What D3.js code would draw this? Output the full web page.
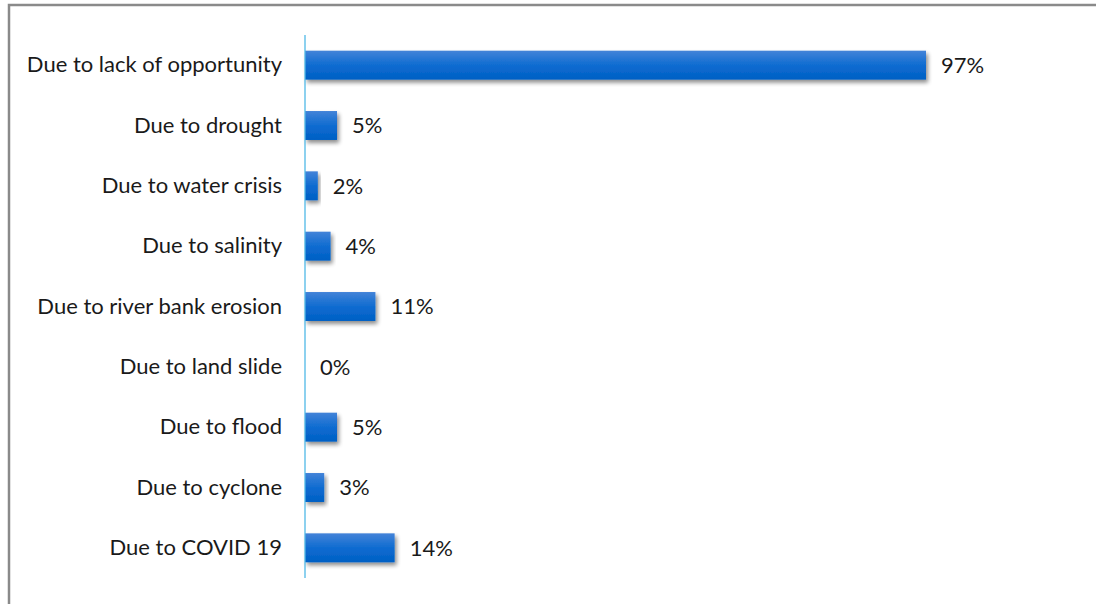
<!DOCTYPE html>
<html>
<head>
<meta charset="utf-8">
<script src="https://cdn.jsdelivr.net/npm/d3@7"></script>
<style>
  html, body { margin: 0; padding: 0; background: #fff; }
  svg { display: block; }
  text { font-family: Lato, "Open Sans", sans-serif; fill: #1a1a1a; }
</style>
</head>
<body>
<svg id="chart" width="1096" height="604"></svg>
<script>
// Reasons for migration, share of respondents (%)
const categories = [
  "Due to lack of opportunity",
  "Due to drought",
  "Due to water crisis",
  "Due to salinity",
  "Due to river bank erosion",
  "Due to land slide",
  "Due to flood",
  "Due to cyclone",
  "Due to COVID 19"
];
const values = [97, 5, 2, 4, 11, 0, 5, 3, 14];
const valueLabels = ["97%", "5%", "2%", "4%", "11%", "0%", "5%", "3%", "14%"];

const svg = d3.select("#chart");
const W = 1096, H = 604;
const fontSize = 22;

// outer frame (only top and left edges fall inside the view)
svg.append("rect")
  .attr("x", 9).attr("y", 5)
  .attr("width", W + 20).attr("height", H + 20)
  .attr("fill", "#fff")
  .attr("stroke", "#8a8a8a")
  .attr("stroke-width", 2.5);

const defs = svg.append("defs");
const grad = defs.append("linearGradient")
  .attr("id", "barGrad").attr("x1", 0).attr("y1", 0).attr("x2", 0).attr("y2", 1);
grad.append("stop").attr("offset", "0%").attr("stop-color", "#4383d8");
grad.append("stop").attr("offset", "55%").attr("stop-color", "#0a6ad0");
grad.append("stop").attr("offset", "100%").attr("stop-color", "#0360c4");

const shadow = defs.append("filter").attr("id", "barShadow")
  .attr("x", "-10%").attr("y", "-20%").attr("width", "130%").attr("height", "160%");
shadow.append("feGaussianBlur").attr("in", "SourceAlpha").attr("stdDeviation", 2.2).attr("result", "b");
shadow.append("feOffset").attr("in", "b").attr("dx", 2).attr("dy", 3).attr("result", "o");
shadow.append("feComponentTransfer").attr("in", "o").attr("result", "s")
  .append("feFuncA").attr("type", "linear").attr("slope", 0.45);
const merge = shadow.append("feMerge");
merge.append("feMergeNode").attr("in", "s");
merge.append("feMergeNode").attr("in", "SourceGraphic");

const x0 = 305;
const x = d3.scaleLinear().domain([0, 97]).range([x0, 926]);
const y = d3.scaleBand().domain(categories).range([35, 578])
  .paddingInner(0.52).paddingOuter(0.26);

const data = categories.map((c, i) => ({ c, v: values[i], label: valueLabels[i] }));

svg.append("g").selectAll("rect")
  .data(data.filter(d => d.v > 0))
  .join("rect")
  .attr("x", x0)
  .attr("y", d => y(d.c))
  .attr("width", d => x(d.v) - x0)
  .attr("height", y.bandwidth())
  .attr("fill", "url(#barGrad)")
  .attr("filter", "url(#barShadow)");

// category axis
const yAxis = svg.append("g")
  .attr("transform", `translate(${x0},0)`)
  .call(d3.axisLeft(y).tickSize(0).tickPadding(23));
yAxis.select(".domain").attr("stroke", "#4fb8e6").attr("stroke-width", 1.3)
  .attr("d", `M0,35V578`);
yAxis.selectAll("text")
  .attr("font-size", fontSize)
  .attr("font-family", "Lato, 'Open Sans', sans-serif")
  .attr("fill", "#1a1a1a");

// value labels
svg.append("g").selectAll("text")
  .data(data)
  .join("text")
  .attr("x", d => x(d.v) + 15)
  .attr("y", d => y(d.c) + y.bandwidth() / 2)
  .attr("dy", "0.35em")
  .attr("font-size", fontSize)
  .text(d => d.label);
</script>
</body>
</html>
